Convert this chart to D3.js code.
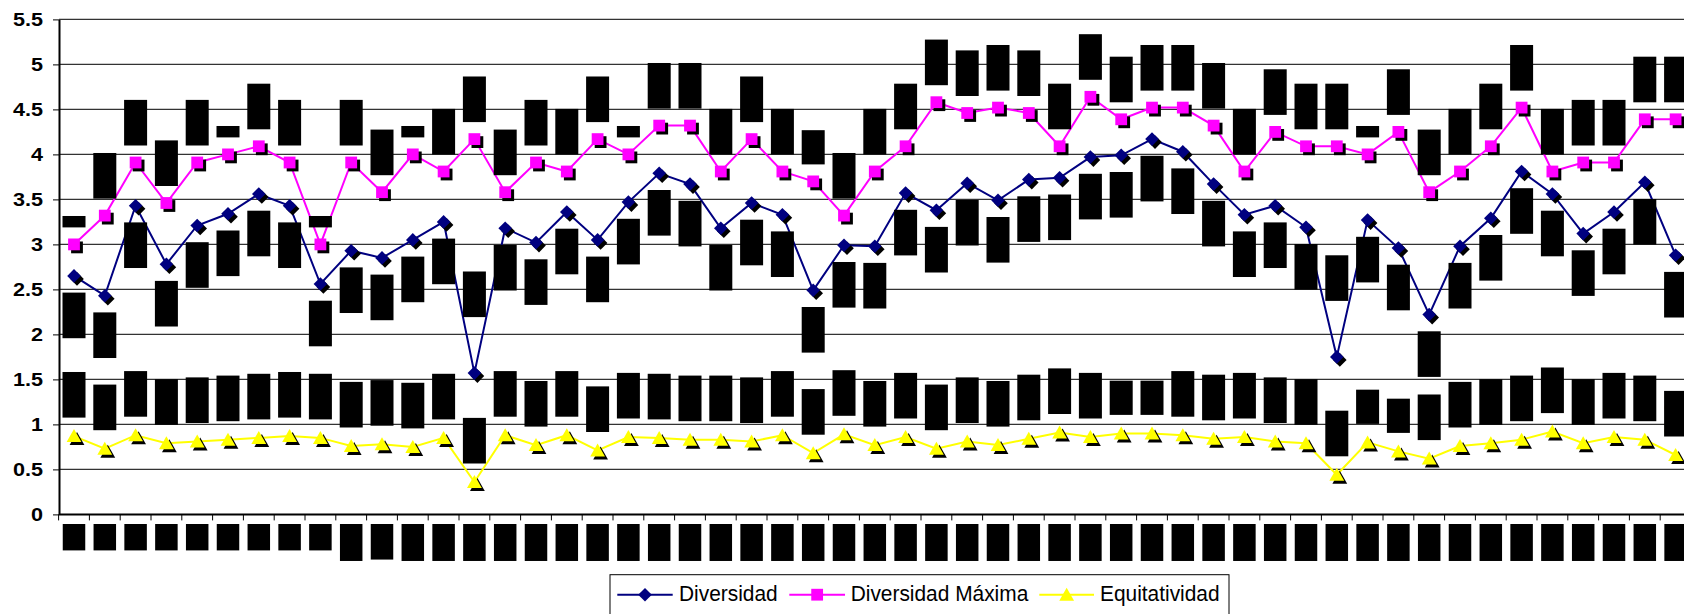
<!DOCTYPE html>
<html>
<head>
<meta charset="utf-8">
<script src="https://cdn.jsdelivr.net/npm/d3@7"></script>
<style>
  html, body { margin: 0; padding: 0; background: #fff; }
  svg { display: block; }
</style>
</head>
<body>
<svg id="chart" width="1684" height="614"></svg>
<script>
// Sampling stations along the x axis
const categories = d3.range(1, 54).map(n => "M" + n);

// Shannon diversity H'
const diversidad = [
  2.65, 2.43, 3.43, 2.78, 3.21, 3.34, 3.56, 3.43, 2.56, 2.93,
  2.85, 3.05, 3.25, 1.57, 3.18, 3.02, 3.36, 3.05, 3.47, 3.79,
  3.67, 3.18, 3.46, 3.33, 2.49, 2.99, 2.98, 3.57, 3.38, 3.68,
  3.49, 3.72, 3.74, 3.97, 3.99, 4.17, 4.03, 3.67, 3.33, 3.43,
  3.19, 1.75, 3.27, 2.96, 2.22, 2.98, 3.29, 3.81, 3.56, 3.12,
  3.36, 3.69, 2.88
];

// Maximum diversity Hmax
const diversidadMaxima = [
  3, 3.32, 3.91, 3.46, 3.91, 4, 4.09, 3.91, 3, 3.91,
  3.58, 4, 3.81, 4.17, 3.58, 3.91, 3.81, 4.17, 4, 4.32,
  4.32, 3.81, 4.17, 3.81, 3.7, 3.32, 3.81, 4.09, 4.58, 4.46,
  4.52, 4.46, 4.09, 4.64, 4.39, 4.52, 4.52, 4.32, 3.81, 4.25,
  4.09, 4.09, 4, 4.25, 3.58, 3.81, 4.09, 4.52, 3.81, 3.91,
  3.91, 4.39, 4.39
];

// Evenness J
const equitatividad = [
  0.87, 0.73, 0.88, 0.79, 0.81, 0.83, 0.85, 0.87, 0.85, 0.76,
  0.78, 0.75, 0.85, 0.36, 0.88, 0.77, 0.88, 0.71, 0.86, 0.85,
  0.83, 0.83, 0.81, 0.88, 0.68, 0.89, 0.77, 0.86, 0.73, 0.81,
  0.77, 0.84, 0.91, 0.86, 0.9, 0.9, 0.88, 0.84, 0.86, 0.81,
  0.79, 0.44, 0.8, 0.7, 0.62, 0.76, 0.79, 0.83, 0.92, 0.79,
  0.86, 0.83, 0.66
];

const yTicks = [0, 0.5, 1, 1.5, 2, 2.5, 3, 3.5, 4, 4.5, 5, 5.5];
const seriesNames = ["Diversidad", "Diversidad Máxima", "Equitatividad"];

// Diversity labels that sit above their point instead of below it
const raisedDiversidadLabels = [13, 41];

// ---------------------------------------------------------------
const svg = d3.select("#chart");
const W = 1684, H = 614;
const plot = { left: 59, top: 19.4, bottom: 514.4, step: 30.8 };

const x = d3.scaleBand()
  .domain(categories)
  .range([plot.left - 0.4, plot.left - 0.4 + categories.length * plot.step])
  .paddingInner(0).paddingOuter(0);
const cx = i => x(categories[i]) + x.bandwidth() / 2;

const y = d3.scaleLinear().domain([0, 5.5]).range([plot.bottom, plot.top]);

// gridlines
svg.append("g")
  .selectAll("line")
  .data(yTicks.filter(v => v > 0))
  .join("line")
  .attr("x1", plot.left).attr("x2", W)
  .attr("y1", d => y(d)).attr("y2", d => y(d))
  .attr("stroke", "#333").attr("stroke-width", 1.2);

// y axis
const yAxis = svg.append("g")
  .attr("transform", `translate(${plot.left},0)`)
  .call(d3.axisLeft(y).tickValues(yTicks).tickSize(6).tickSizeOuter(0)
        .tickFormat(d => String(d)));
yAxis.select(".domain").attr("stroke", "#000").attr("stroke-width", 2);
yAxis.selectAll(".tick line").attr("stroke", "#000").attr("stroke-width", 1);
yAxis.selectAll(".tick text")
  .attr("x", -16 / 1.2)
  .attr("dy", "0.36em")
  .attr("transform", "scale(1.2,1)")
  .attr("font-family", "'Liberation Sans', Arial, sans-serif")
  .attr("font-weight", "bold")
  .attr("font-size", 18)
  .attr("fill", "#000");

// x axis (category labels are drawn separately as rotated boxed labels)
const xAxis = svg.append("g")
  .attr("transform", `translate(0,${plot.bottom})`)
  .call(d3.axisBottom(x).tickSize(0).tickFormat(""));
xAxis.select(".domain").attr("stroke", "#000").attr("stroke-width", 2)
  .attr("d", `M${plot.left},0H${W}`);
svg.append("g")
  .selectAll("line")
  .data(categories.concat(["__end"]))
  .join("line")
  .attr("x1", (d, i) => i < categories.length ? x(d) : x.range()[1])
  .attr("x2", (d, i) => i < categories.length ? x(d) : x.range()[1])
  .attr("y1", plot.bottom).attr("y2", plot.bottom + 6)
  .attr("stroke", "#000").attr("stroke-width", 1);

// series styling
const series = [
  { name: seriesNames[0], values: diversidad, color: "#000080", shape: "diamond" },
  { name: seriesNames[1], values: diversidadMaxima, color: "#FF00FF", shape: "square" },
  { name: seriesNames[2], values: equitatividad, color: "#FFFF00", shape: "triangle" }
];

const shapes = {
  diamond: "M0,-6.8L6.8,0L0,6.8L-6.8,0Z",
  square: "M-5.9,-5.9H5.9V5.9H-5.9Z",
  triangle: "M0,-7L7.4,6H-7.4Z"
};

const line = d3.line().x((d, i) => cx(i)).y(d => y(d));

series.forEach(s => {
  svg.append("path")
    .datum(s.values)
    .attr("d", line)
    .attr("fill", "none")
    .attr("stroke", s.color)
    .attr("stroke-width", 2);
});

series.forEach(s => {
  const g = svg.append("g");
  g.selectAll("path.shadow")
    .data(s.values)
    .join("path")
    .attr("class", "shadow")
    .attr("d", shapes[s.shape])
    .attr("transform", (d, i) => `translate(${cx(i) + 3},${y(d) + 3})`)
    .attr("fill", "#000");
  g.selectAll("path.marker")
    .data(s.values)
    .join("path")
    .attr("class", "marker")
    .attr("d", shapes[s.shape])
    .attr("transform", (d, i) => `translate(${cx(i)},${y(d)})`)
    .attr("fill", s.color);
});

// rotated labels on solid black boxes
const labelLayer = svg.append("g");
function boxedLabel(text, centerX, anchorY, side, font, boxW) {
  const g = labelLayer.append("g");
  const rect = g.append("rect").attr("fill", "#000");
  const t = g.append("text")
    .text(text)
    .attr("font-family", font.family)
    .attr("font-size", font.size)
    .attr("fill", "#000")
    .attr("text-anchor", "middle")
    .attr("dominant-baseline", "central");
  const len = t.node().getComputedTextLength();
  const top = side === "above" ? anchorY - len : anchorY;
  rect.attr("x", centerX - boxW / 2).attr("y", top)
      .attr("width", boxW).attr("height", len);
  // keep the glyphs themselves inside the drawing area at the right edge
  const tx = Math.min(centerX, W - 12);
  t.attr("transform", `translate(${tx},${top + len / 2}) rotate(-90)`);
}

const valueFont = { family: "'Liberation Mono', 'DejaVu Sans Mono', monospace", size: 19 };
const catFont = { family: "'Liberation Sans', Arial, sans-serif", size: 19 };

diversidadMaxima.forEach((v, i) => boxedLabel(String(v), cx(i), y(v) - 17, "above", valueFont, 23));
equitatividad.forEach((v, i) => boxedLabel(String(v), cx(i), y(v) - 18.5, "above", valueFont, 23));
diversidad.forEach((v, i) => {
  if (raisedDiversidadLabels.includes(i)) {
    boxedLabel(String(v), cx(i), y(v) - 56, "above", valueFont, 23);
  } else {
    boxedLabel(String(v), cx(i), y(v) + 16.7, "below", valueFont, 23);
  }
});
categories.forEach((c, i) => boxedLabel(c, cx(i), plot.bottom + 9.6, "below", catFont, 22.5));

// legend
const legend = svg.append("g");
legend.append("rect")
  .attr("x", 610).attr("y", 574.7).attr("width", 619).attr("height", 60)
  .attr("fill", "#fff").attr("stroke", "#000").attr("stroke-width", 1);
const legendItems = [
  { s: series[0], x0: 617.3, x1: 672.7, tx: 679 },
  { s: series[1], x0: 789.3, x1: 845, tx: 850.7 },
  { s: series[2], x0: 1039.3, x1: 1094, tx: 1100 }
];
const ly = 594.7;
legendItems.forEach(it => {
  legend.append("line")
    .attr("x1", it.x0).attr("x2", it.x1).attr("y1", ly).attr("y2", ly)
    .attr("stroke", it.s.color).attr("stroke-width", 2);
  legend.append("path")
    .attr("d", shapes[it.s.shape])
    .attr("transform", `translate(${(it.x0 + it.x1) / 2},${ly})`)
    .attr("fill", it.s.color);
  legend.append("text")
    .attr("transform", `translate(${it.tx},600.5) scale(0.95,1)`)
    .attr("font-family", "'Liberation Sans', Arial, sans-serif")
    .attr("font-size", 22)
    .attr("fill", "#000")
    .text(it.s.name);
});
</script>
</body>
</html>
